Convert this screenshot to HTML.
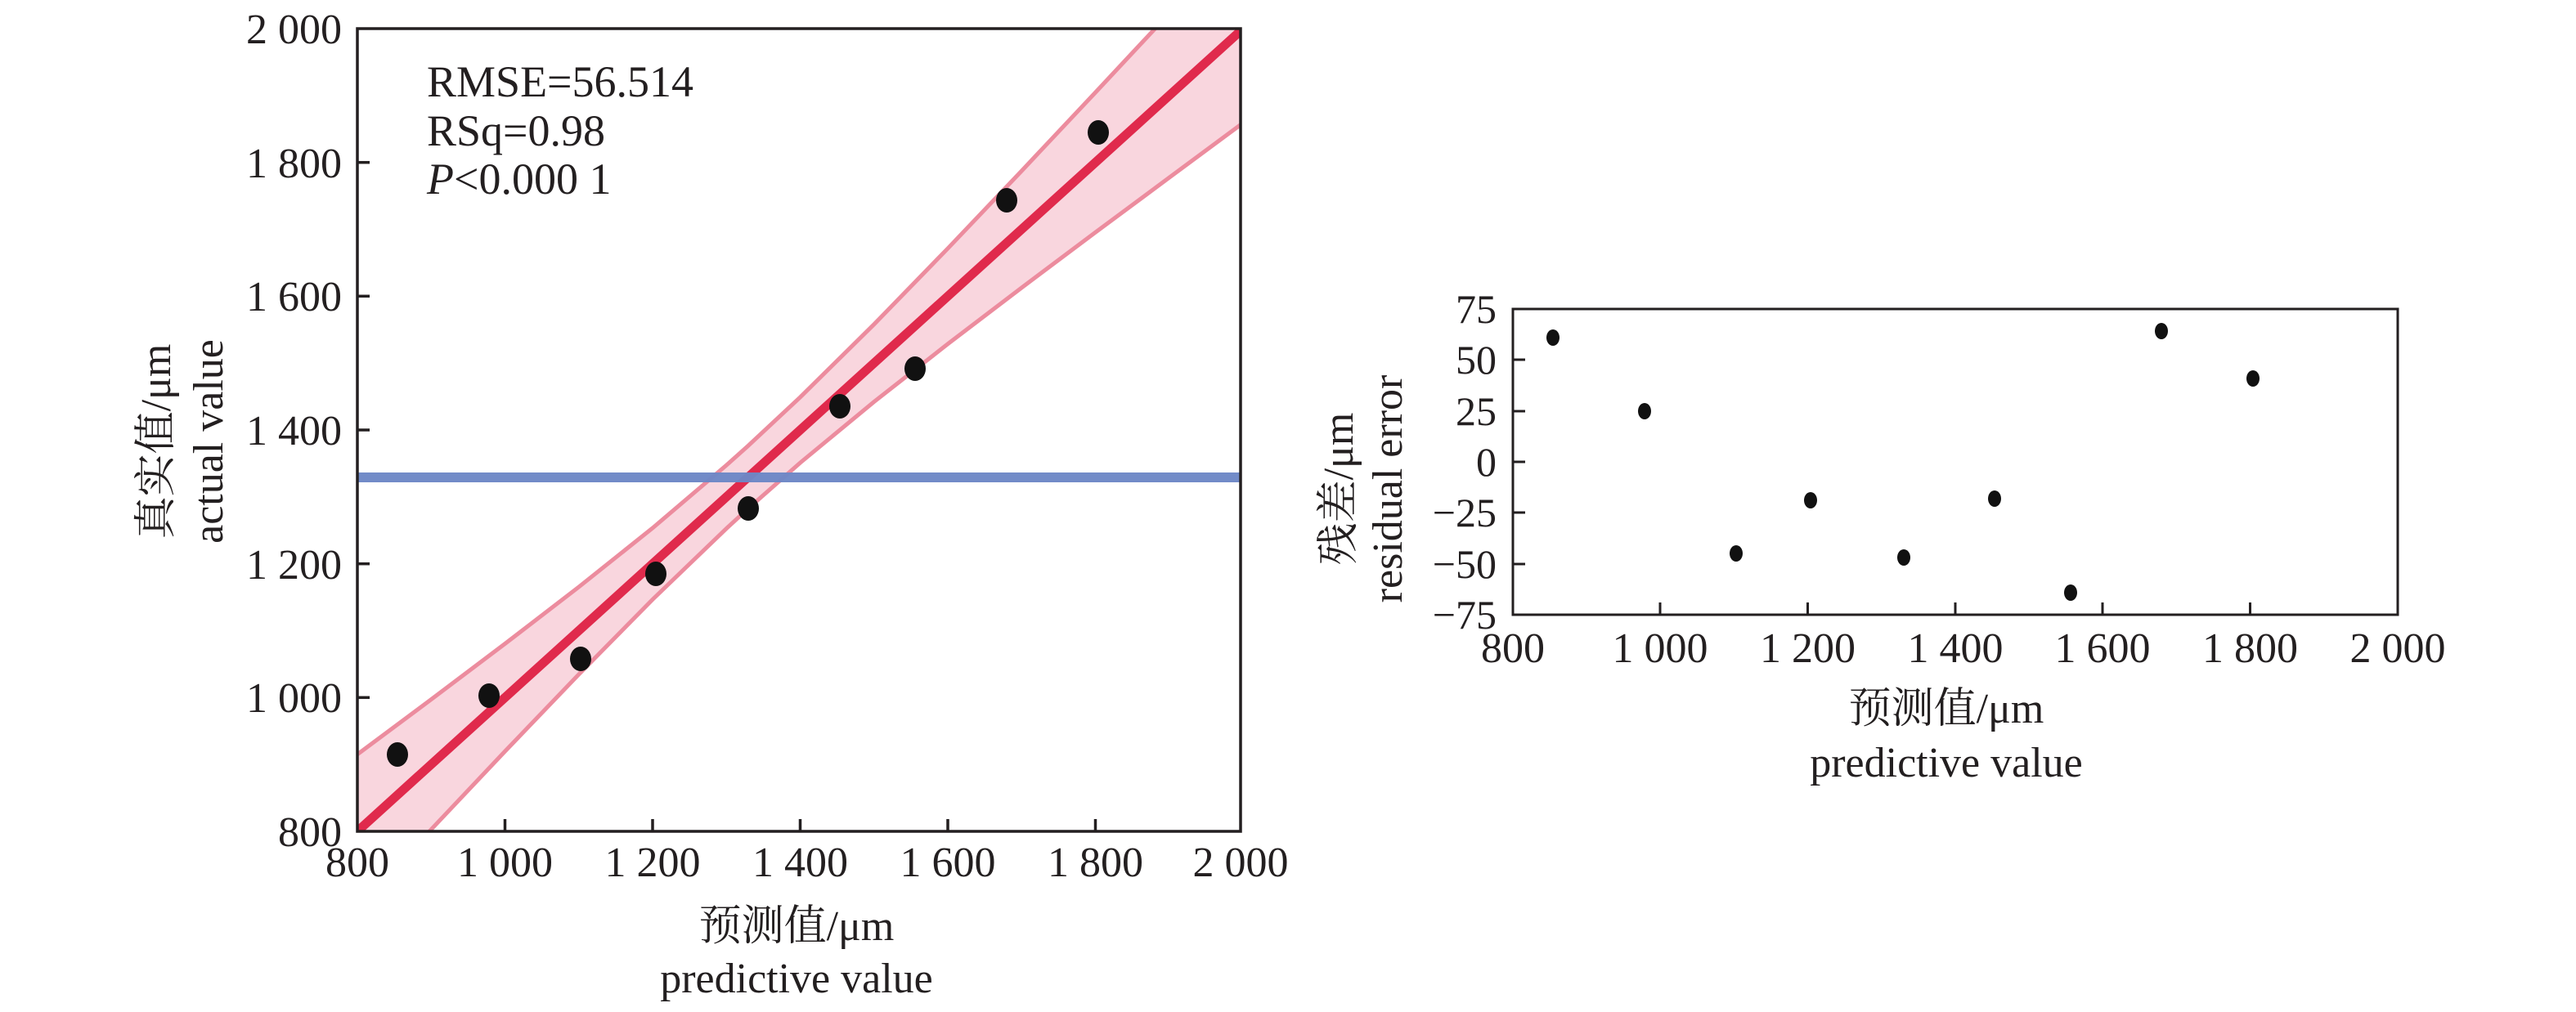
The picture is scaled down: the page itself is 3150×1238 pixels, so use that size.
<!DOCTYPE html>
<html><head><meta charset="utf-8"><style>
html,body{margin:0;padding:0;background:#fff;}
svg{display:block;}
text{font-family:"Liberation Serif","Noto Serif CJK SC",serif;fill:#231f20;}
</style></head><body>
<svg width="3150" height="1238" viewBox="0 0 3150 1238" xmlns="http://www.w3.org/2000/svg">
<defs><clipPath id="c1"><rect x="437" y="35" width="1080" height="982"/></clipPath></defs>
<g clip-path="url(#c1)">
 <g transform="translate(437,1017) scale(0.9025,-0.8183) translate(-800,-800)">
  <path d="M800,915 L900,997.2 L1000,1080.4 L1100,1165.3 L1200,1253.4 L1300,1347.3 L1329,1375.9 L1400,1449 L1500,1557.9 L1600,1671.4 L1700,1787.3 L1800,1904.6 L1900,2022.7 L2000,2141 L2000,1859 L1900,1777.3 L1800,1695.4 L1700,1612.7 L1600,1528.6 L1500,1442.1 L1400,1351 L1329,1282.1 L1300,1252.7 L1200,1146.6 L1100,1034.7 L1000,919.6 L900,802.8 L800,685 Z" fill="#f9d6de" stroke="none"/>
  <path d="M800,915 L900,997.2 L1000,1080.4 L1100,1165.3 L1200,1253.4 L1300,1347.3 L1329,1375.9 L1400,1449 L1500,1557.9 L1600,1671.4 L1700,1787.3 L1800,1904.6 L1900,2022.7 L2000,2141" fill="none" stroke="#ec8c9e" stroke-width="5" vector-effect="non-scaling-stroke"/>
  <path d="M2000,1859 L1900,1777.3 L1800,1695.4 L1700,1612.7 L1600,1528.6 L1500,1442.1 L1400,1351 L1329,1282.1 L1300,1252.7 L1200,1146.6 L1100,1034.7 L1000,919.6 L900,802.8 L800,685" fill="none" stroke="#ec8c9e" stroke-width="5" vector-effect="non-scaling-stroke"/>
  <line x1="800" y1="800" x2="2000" y2="2000" stroke="#e02a4c" stroke-width="11" vector-effect="non-scaling-stroke"/>
 </g>
 <rect x="437" y="578" width="1080" height="12" fill="#6d87c6" opacity="0.97"/>
</g>
<g fill="#111">
 <ellipse cx="486" cy="923" rx="13" ry="15"/><ellipse cx="598" cy="851" rx="13" ry="15"/>
 <ellipse cx="710" cy="806" rx="13" ry="15"/><ellipse cx="802" cy="702" rx="13" ry="15"/>
 <ellipse cx="915" cy="622" rx="13" ry="15"/><ellipse cx="1027" cy="497" rx="13" ry="15"/>
 <ellipse cx="1119" cy="451" rx="13" ry="15"/><ellipse cx="1231" cy="245" rx="13" ry="15"/>
 <ellipse cx="1343" cy="162" rx="13" ry="15"/>
</g>
<rect x="437" y="35" width="1080" height="982" fill="none" stroke="#231f20" stroke-width="3.5"/>
<g stroke="#231f20" stroke-width="3.5">
 <line x1="617.5" y1="1017" x2="617.5" y2="1002"/><line x1="798" y1="1017" x2="798" y2="1002"/>
 <line x1="978.5" y1="1017" x2="978.5" y2="1002"/><line x1="1159" y1="1017" x2="1159" y2="1002"/>
 <line x1="1339.5" y1="1017" x2="1339.5" y2="1002"/>
 <line x1="437" y1="853.3" x2="452" y2="853.3"/><line x1="437" y1="689.7" x2="452" y2="689.7"/>
 <line x1="437" y1="526" x2="452" y2="526"/><line x1="437" y1="362.3" x2="452" y2="362.3"/>
 <line x1="437" y1="198.7" x2="452" y2="198.7"/>
</g>
<g font-size="52" text-anchor="end">
 <text x="418" y="1035">800</text><text x="418" y="871">1 000</text><text x="418" y="708">1 200</text>
 <text x="418" y="544">1 400</text><text x="418" y="380">1 600</text><text x="418" y="217">1 800</text>
 <text x="418" y="53">2 000</text>
</g>
<g font-size="52" text-anchor="middle">
 <text x="437" y="1072">800</text><text x="617.5" y="1072">1 000</text><text x="798" y="1072">1 200</text>
 <text x="978.5" y="1072">1 400</text><text x="1159" y="1072">1 600</text><text x="1339.5" y="1072">1 800</text>
 <text x="1517" y="1072">2 000</text>
 <text x="974" y="1150">预测值/μm</text><text x="974" y="1214">predictive value</text>
</g>
<g font-size="52" transform="translate(208,540) rotate(-90)" text-anchor="middle"><text x="0" y="0">真实值/μm</text></g>
<g font-size="52" transform="translate(272,540) rotate(-90)" text-anchor="middle"><text x="0" y="0">actual value</text></g>
<g font-size="54">
 <text x="522" y="118">RMSE=56.514</text>
 <text x="522" y="178">RSq=0.98</text>
 <text x="522" y="237"><tspan font-style="italic">P</tspan>&lt;0.000 1</text>
</g>

<g fill="#111">
 <ellipse cx="1899" cy="413" rx="8" ry="10"/><ellipse cx="2011" cy="503" rx="8" ry="10"/>
 <ellipse cx="2123" cy="677" rx="8" ry="10"/><ellipse cx="2214" cy="612" rx="8" ry="10"/>
 <ellipse cx="2328" cy="682" rx="8" ry="10"/><ellipse cx="2439" cy="610" rx="8" ry="10"/>
 <ellipse cx="2532" cy="725" rx="8" ry="10"/><ellipse cx="2643" cy="405" rx="8" ry="10"/>
 <ellipse cx="2755" cy="463" rx="8" ry="10"/>
</g>
<rect x="1850" y="378" width="1082" height="374" fill="none" stroke="#231f20" stroke-width="3"/>
<g stroke="#231f20" stroke-width="3">
 <line x1="2030" y1="752" x2="2030" y2="737"/><line x1="2210.5" y1="752" x2="2210.5" y2="737"/>
 <line x1="2391" y1="752" x2="2391" y2="737"/><line x1="2571" y1="752" x2="2571" y2="737"/>
 <line x1="2751.5" y1="752" x2="2751.5" y2="737"/>
 <line x1="1850" y1="440" x2="1865" y2="440"/><line x1="1850" y1="503" x2="1865" y2="503"/>
 <line x1="1850" y1="565" x2="1865" y2="565"/><line x1="1850" y1="627" x2="1865" y2="627"/>
 <line x1="1850" y1="690" x2="1865" y2="690"/>
</g>
<g font-size="50" text-anchor="end">
 <text x="1830" y="395">75</text><text x="1830" y="457">50</text><text x="1830" y="520">25</text>
 <text x="1830" y="582">0</text><text x="1830" y="644">−25</text><text x="1830" y="707">−50</text>
 <text x="1830" y="769">−75</text>
</g>
<g font-size="52" text-anchor="middle">
 <text x="1850" y="810">800</text><text x="2030" y="810">1 000</text><text x="2210.5" y="810">1 200</text>
 <text x="2391" y="810">1 400</text><text x="2571" y="810">1 600</text><text x="2751.5" y="810">1 800</text>
 <text x="2932" y="810">2 000</text>
 <text x="2380" y="884">预测值/μm</text><text x="2380" y="950">predictive value</text>
</g>
<g font-size="52" transform="translate(1654,598) rotate(-90)" text-anchor="middle"><text x="0" y="0">残差/μm</text></g>
<g font-size="52" transform="translate(1714,598) rotate(-90)" text-anchor="middle"><text x="0" y="0">residual error</text></g>
</svg>
</body></html>
